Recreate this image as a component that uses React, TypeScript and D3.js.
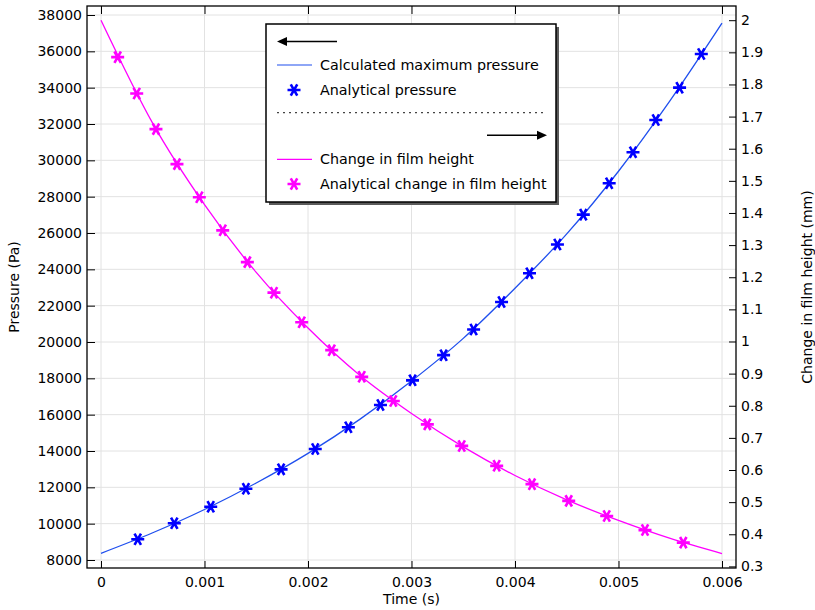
import React, { useRef, useEffect } from "react";
import * as d3 from "d3";

// line series (read at 0.0005 s steps)
const lineTime = [0, 0.0005, 0.001, 0.0015, 0.002, 0.0025, 0.003, 0.0035, 0.004, 0.0045, 0.005, 0.0055, 0.006];
const pressureLine = [8370, 9500, 10780, 12240, 13870, 15740, 17850, 20200, 22960, 25950, 29400, 33300, 37550];
const heightLine = [2.0, 1.679, 1.426, 1.215, 1.042, 0.895, 0.776, 0.672, 0.583, 0.507, 0.443, 0.387, 0.34];

// analytical points
const pressureMarkerTime = [0.000355, 0.000708, 0.00106, 0.0014, 0.00174, 0.00207, 0.00239, 0.0027, 0.00301, 0.00331, 0.0036, 0.00387, 0.00414, 0.00441, 0.00466, 0.00491, 0.00514, 0.00536, 0.00559, 0.0058];
const pressureMarkers = [9140, 10020, 10930, 11925, 12990, 14110, 15305, 16530, 17890, 19275, 20685, 22200, 23785, 25365, 27010, 28740, 30445, 32220, 34000, 35855];
const heightMarkerTime = [0.000161, 0.000345, 0.000531, 0.000734, 0.00095, 0.001176, 0.001414, 0.001671, 0.001939, 0.002229, 0.002519, 0.002824, 0.003153, 0.003485, 0.003823, 0.004164, 0.004519, 0.004886, 0.005256, 0.005626];
const heightMarkers = [1.885, 1.772, 1.661, 1.552, 1.449, 1.346, 1.247, 1.152, 1.06, 0.973, 0.89, 0.815, 0.742, 0.675, 0.613, 0.556, 0.504, 0.457, 0.413, 0.374];

// tick labels
const timeTicks = ["0", "0.001", "0.002", "0.003", "0.004", "0.005", "0.006"];
const pressureTicks = ["8000", "10000", "12000", "14000", "16000", "18000", "20000", "22000", "24000", "26000", "28000", "30000", "32000", "34000", "36000", "38000"];
const heightTicks = ["0.3", "0.4", "0.5", "0.6", "0.7", "0.8", "0.9", "1", "1.1", "1.2", "1.3", "1.4", "1.5", "1.6", "1.7", "1.8", "1.9", "2"];

const FONT = "DejaVu Sans, sans-serif";
const BLUE_LINE = "#1f4fee";
const BLUE = "#0000ff";
const PINK = "#ff00ff";

// 6-arm asterisk
const asterisk = (cx, cy, r) => {
  let p = "";
  [0, 60, 120].forEach((a) => {
    const dx = r * Math.cos((a * Math.PI) / 180);
    const dy = r * Math.sin((a * Math.PI) / 180);
    p += `M${cx - dx},${cy - dy}L${cx + dx},${cy + dy}`;
  });
  return p;
};

const App = () => {
  const svgRef = useRef(null);

  useEffect(() => {
    const svg = d3.select(svgRef.current);
    svg.selectAll("*").remove();

    const left = 87, right = 736, top = 6, bottom = 568;

    const x = d3.scaleLinear().domain([0, 0.006]).range([101, 722]);
    const yL = d3.scaleLinear().domain([8000, 38000]).range([560, 15]);
    const yR = d3.scaleLinear().domain([0.3, 2]).range([566.4, 20.2]);

    const tVals = timeTicks.map(Number);
    const pVals = pressureTicks.map(Number);
    const hVals = heightTicks.map(Number);

    svg.append("rect").attr("x", left).attr("y", top)
      .attr("width", right - left).attr("height", bottom - top).attr("fill", "white");

    // grid
    const grid = svg.append("g").attr("stroke", "#e2e2e2").attr("stroke-width", 1);
    grid.selectAll(".gx").data(tVals).enter().append("line")
      .attr("x1", (d) => x(d)).attr("x2", (d) => x(d))
      .attr("y1", top).attr("y2", bottom);
    grid.selectAll(".gy").data(pVals).enter().append("line")
      .attr("x1", left).attr("x2", right)
      .attr("y1", (d) => yL(d)).attr("y2", (d) => yL(d));

    // axes
    const styleAxis = (g) => {
      g.select(".domain").remove();
      g.selectAll("line").attr("stroke", "#000");
      g.selectAll("text").attr("fill", "#000").style("font-family", FONT).style("font-size", "14px");
    };

    svg.append("g").attr("transform", `translate(${left},0)`)
      .call(d3.axisLeft(yL).tickValues(pVals).tickFormat((d, i) => pressureTicks[i]).tickSize(-8).tickPadding(5))
      .call(styleAxis);
    svg.append("g").attr("transform", `translate(0,${bottom})`)
      .call(d3.axisBottom(x).tickValues(tVals).tickFormat((d, i) => timeTicks[i]).tickSize(-7).tickPadding(9))
      .call(styleAxis);
    svg.append("g").attr("transform", `translate(0,${top})`)
      .call(d3.axisTop(x).tickValues(tVals).tickFormat(() => "").tickSize(-8))
      .call(styleAxis);
    svg.append("g").attr("transform", `translate(${right},0)`)
      .call(d3.axisRight(yR).tickValues(hVals).tickFormat((d, i) => heightTicks[i]).tickSize(-7).tickPadding(5))
      .call(styleAxis);

    svg.append("rect").attr("x", left).attr("y", top)
      .attr("width", right - left).attr("height", bottom - top)
      .attr("fill", "none").attr("stroke", "#000").attr("stroke-width", 1.3);

    // lines
    const pLine = d3.line().x((d, i) => x(lineTime[i])).y((d) => yL(d)).curve(d3.curveMonotoneX);
    const hLine = d3.line().x((d, i) => x(lineTime[i])).y((d) => yR(d)).curve(d3.curveMonotoneX);

    svg.append("path").datum(pressureLine).attr("d", pLine)
      .attr("fill", "none").attr("stroke", BLUE_LINE).attr("stroke-width", 1.3);
    svg.append("path").datum(heightLine).attr("d", hLine)
      .attr("fill", "none").attr("stroke", PINK).attr("stroke-width", 1.3);

    // markers
    svg.append("g").selectAll("path").data(pressureMarkers).enter().append("path")
      .attr("d", (d, i) => asterisk(x(pressureMarkerTime[i]), yL(d), 6.5))
      .attr("stroke", BLUE).attr("stroke-width", 2.6).attr("fill", "none");
    svg.append("g").selectAll("path").data(heightMarkers).enter().append("path")
      .attr("d", (d, i) => asterisk(x(heightMarkerTime[i]), yR(d), 6.5))
      .attr("stroke", PINK).attr("stroke-width", 2.6).attr("fill", "none");

    // axis titles
    svg.append("text").attr("transform", `translate(19,${(top + bottom) / 2}) rotate(-90)`)
      .attr("text-anchor", "middle").style("font-family", FONT).style("font-size", "14px")
      .text("Pressure (Pa)");
    svg.append("text").attr("x", (101 + 722) / 2).attr("y", 604)
      .attr("text-anchor", "middle").style("font-family", FONT).style("font-size", "14px")
      .text("Time (s)");
    svg.append("text").attr("transform", `translate(812,${(top + bottom) / 2}) rotate(-90)`)
      .attr("text-anchor", "middle").style("font-family", FONT).style("font-size", "14px")
      .text("Change in film height (mm)");

    // legend
    const lg = svg.append("g");
    const lx = 266, ly = 24, lw = 290, lh = 178;
    lg.append("rect").attr("x", lx + 3).attr("y", ly + 3).attr("width", lw).attr("height", lh).attr("fill", "#5a5a5a");
    lg.append("rect").attr("x", lx).attr("y", ly).attr("width", lw).attr("height", lh)
      .attr("fill", "white").attr("stroke", "#000").attr("stroke-width", 1.5);

    // left arrow
    lg.append("line").attr("x1", 284).attr("x2", 337).attr("y1", 41.5).attr("y2", 41.5).attr("stroke", "#000").attr("stroke-width", 1.6);
    lg.append("path").attr("d", "M277,41.5L287,37L287,46Z").attr("fill", "#000");

    const txt = (y, s) => lg.append("text").attr("x", 320).attr("y", y).attr("dy", "0.35em")
      .style("font-family", FONT).style("font-size", "14.3px").attr("fill", "#000").text(s);

    lg.append("line").attr("x1", 277).attr("x2", 312).attr("y1", 65).attr("y2", 65).attr("stroke", BLUE_LINE).attr("stroke-width", 1.2);
    txt(65, "Calculated maximum pressure");
    lg.append("path").attr("d", asterisk(294, 90, 6.5)).attr("stroke", BLUE).attr("stroke-width", 2.6);
    txt(90, "Analytical pressure");

    lg.append("line").attr("x1", 277).attr("x2", 547).attr("y1", 112.7).attr("y2", 112.7)
      .attr("stroke", "#444").attr("stroke-width", 1.2).attr("stroke-dasharray", "2,4");

    // right arrow
    lg.append("line").attr("x1", 487).attr("x2", 540).attr("y1", 135.3).attr("y2", 135.3).attr("stroke", "#000").attr("stroke-width", 1.6);
    lg.append("path").attr("d", "M547,135.3L537,130.8L537,139.8Z").attr("fill", "#000");

    lg.append("line").attr("x1", 277).attr("x2", 312).attr("y1", 159.3).attr("y2", 159.3).attr("stroke", PINK).attr("stroke-width", 1.2);
    txt(159.3, "Change in film height");
    lg.append("path").attr("d", asterisk(294, 184, 6.5)).attr("stroke", PINK).attr("stroke-width", 2.6);
    txt(184, "Analytical change in film height");
  }, []);

  return (
    <svg
      ref={svgRef}
      width={815}
      height={610}
      style={{ position: "absolute", left: 0, top: 0, background: "white" }}
    />
  );
};

export default App;
